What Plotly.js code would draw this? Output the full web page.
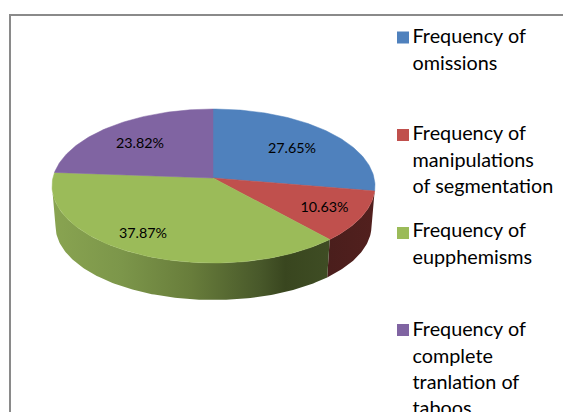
<!DOCTYPE html>
<html>
<head>
<meta charset="utf-8">
<script src="https://cdn.plot.ly/plotly-3.0.1.min.js"></script>
<style>html,body{margin:0;padding:0;background:#fff;overflow:hidden}#chart{width:563px;height:412px}</style>
</head>
<body>
<div id="chart"></div>
<script>
// Data
const categories = ["Frequency of omissions", "Frequency of manipulations of segmentation", "Frequency of eupphemisms", "Frequency of complete tranlation of taboos"];
const values = [27.65, 10.63, 37.87, 23.82];
const colors = ["#4f81bd", "#c0504d", "#9bbb59", "#8064a2"];
const legendLines = [
  ["Frequency of", "omissions"],
  ["Frequency of", "manipulations", "of segmentation"],
  ["Frequency of", "eupphemisms"],
  ["Frequency of", "complete", "tranlation of", "taboos"]
];

// Layout geometry (in page pixels, used as axis units)
const top3d = {cx: 213.5, cy: 186, rx: 161.5, ry: 77, ax: 213, ay: 178};
const bottom3d = {cx: 213.5, cy: 226, rx: 158, ry: 74};
const labelAnchors = [[292, 149], [324.5, 208], [143, 234], [140, 144]];
const legendSwatchY = [37.5, 135, 233, 330];
const legendFirstLineY = [38.5, 135.5, 232.5, 331.5];
const legendLineGap = 26.3;
const legendSwatchX = 403, legendTextX = 412.5;
const wallScales = [
  [[0, "#2e4a70"], [1, "#2e4a70"]],
  [[0, "#4a1e1c"], [1, "#52201e"]],
  [[0, "#89a451"], [0.25, "#7c964a"], [0.5, "#687d3b"], [0.75, "#48582a"], [0.84, "#39461f"], [1, "#3f4d24"]],
  [[0, "#4c3c61"], [1, "#4c3c61"]]
];

const total = values.reduce((a, b) => a + b, 0);
const rad = d => d * Math.PI / 180;

// Point on the top ellipse along a slice direction, from the (perspective-shifted) apex
function rimPoint(theta) {
  const g = top3d;
  const dx = Math.sin(rad(theta)) * g.rx, dy = -Math.cos(rad(theta)) * g.ry;
  const oy = g.ay - g.cy, ox = g.ax - g.cx;
  const A = (dx * dx) / (g.rx * g.rx) + (dy * dy) / (g.ry * g.ry);
  const B = 2 * (ox * dx / (g.rx * g.rx) + oy * dy / (g.ry * g.ry));
  const C = (ox * ox) / (g.rx * g.rx) + (oy * oy) / (g.ry * g.ry) - 1;
  const t = (-B + Math.sqrt(B * B - 4 * A * C)) / (2 * A);
  return [g.ax + t * dx, g.ay + t * dy];
}
function rimParam(p) {
  let a = Math.atan2((p[0] - top3d.cx) / top3d.rx, -(p[1] - top3d.cy) / top3d.ry) * 180 / Math.PI;
  return a < 0 ? a + 360 : a;
}

const traces = [];
const topFaces = [];
let acc = 0;
values.forEach((v, i) => {
  const start = acc / total * 360, end = (acc + v) / total * 360;
  acc += v;
  const n = Math.max(2, Math.ceil(end - start));
  const xs = [top3d.ax], ys = [top3d.ay];
  let pStart = null, pEnd = null;
  for (let k = 0; k <= n; k++) {
    const th = start + (end - start) * k / n;
    const p = rimPoint(th);
    xs.push(p[0]); ys.push(p[1]);
    const ph = rimParam(p);
    if (k === 0) pStart = ph;
    if (k === n) pEnd = ph;
  }
  xs.push(top3d.ax); ys.push(top3d.ay);
  topFaces.push({x: xs, y: ys, type: "scatter", mode: "lines", fill: "toself", fillcolor: colors[i],
    line: {color: colors[i], width: 0.5}, hoverinfo: "text", text: categories[i] + ": " + v + "%"});

  // Visible outer wall, lower half of the ellipse only
  const a = Math.max(pStart, 90), b = Math.min(pEnd, 270);
  if (b > a) {
    const m = Math.ceil(b - a) + 1, up = [], low = [];
    for (let k = 0; k <= m; k++) {
      const f = rad(a + (b - a) * k / m);
      up.push([top3d.cx + top3d.rx * Math.sin(f), top3d.cy - top3d.ry * Math.cos(f)]);
      low.push([bottom3d.cx + bottom3d.rx * Math.sin(f), bottom3d.cy - bottom3d.ry * Math.cos(f)]);
    }
    const poly = up.concat(low.reverse());
    poly.push(poly[0]);
    traces.push({x: poly.map(q => q[0]), y: poly.map(q => q[1]), type: "scatter", mode: "lines",
      fill: "toself", fillgradient: {type: "horizontal", colorscale: wallScales[i]},
      line: {width: 0}, hoverinfo: "skip"});
  }
});
traces.push(...topFaces);

// Data labels
traces.push({
  x: labelAnchors.map(a => a[0]), y: labelAnchors.map(a => a[1]),
  type: "scatter", mode: "text",
  text: values.map(v => v.toFixed(2) + "%"),
  textposition: "middle center",
  textfont: {family: "Lato, sans-serif", size: 14.3, color: "#000000"},
  hoverinfo: "skip"
});

// Legend swatches
traces.push({
  x: categories.map(() => legendSwatchX), y: legendSwatchY,
  type: "scatter", mode: "markers",
  marker: {symbol: "square", size: 12, color: colors, line: {width: 0}},
  text: categories, hoverinfo: "text"
});

// Legend text
const lx = [], ly = [], lt = [];
legendLines.forEach((lines, i) => lines.forEach((s, j) => {
  lx.push(legendTextX); ly.push(legendFirstLineY[i] + j * legendLineGap); lt.push(s);
}));
traces.push({
  x: lx, y: ly, type: "scatter", mode: "text", text: lt, textposition: "middle right",
  textfont: {family: "Lato, sans-serif", size: 19.8, color: "#000000"},
  hoverinfo: "skip", cliponaxis: false
});

const layout = {
  width: 563, height: 412,
  margin: {l: 0, r: 0, t: 0, b: 0},
  paper_bgcolor: "#ffffff", plot_bgcolor: "#ffffff",
  showlegend: false,
  xaxis: {range: [0, 563], visible: false, fixedrange: true},
  yaxis: {range: [412, 0], visible: false, fixedrange: true},
  shapes: [{type: "rect", xref: "x", yref: "y", x0: 10, y0: 15, x1: 620, y1: 470,
    line: {color: "#8a8a8a", width: 2}, fillcolor: "rgba(0,0,0,0)", layer: "below"}]
};
Plotly.newPlot("chart", traces, layout, {displayModeBar: false, responsive: false});
</script>
</body>
</html>
